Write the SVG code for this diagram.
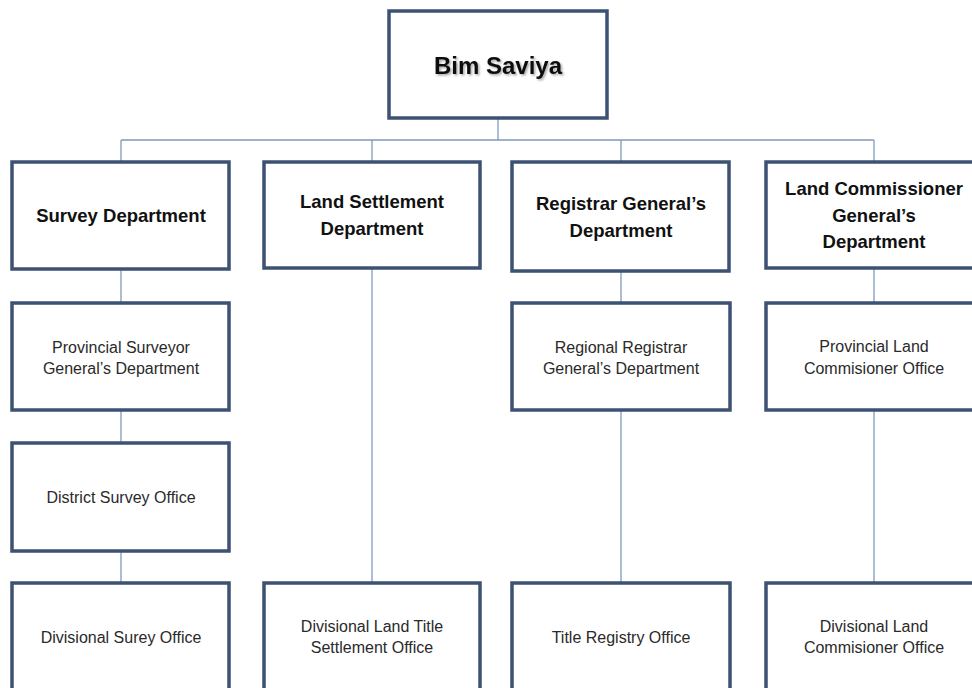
<svg xmlns="http://www.w3.org/2000/svg" width="972" height="688" viewBox="0 0 972 688">
<defs>
<style>
.box{fill:#ffffff;stroke:#3d5273;stroke-width:3.5}
.conn{stroke:#7f9bbb;stroke-width:1.3;fill:none}
.b{font-family:"Liberation Sans",Arial,sans-serif;font-weight:bold;font-size:18.5px;fill:#111;text-anchor:middle}
.n{font-family:"Liberation Sans",Arial,sans-serif;font-size:16px;fill:#2a2a2a;text-anchor:middle}
.t{font-family:"Liberation Sans",Arial,sans-serif;font-weight:bold;font-size:24px;fill:#111;text-anchor:middle}
</style>
<filter id="sh" x="-20%" y="-30%" width="140%" height="160%">
<feDropShadow dx="1.5" dy="1.5" stdDeviation="1" flood-color="#000" flood-opacity="0.35"/>
</filter>
</defs>
<rect width="972" height="688" fill="#ffffff"/>
<g id="connectors">
<path class="conn" d="M498 118V140M121 140H874M121 140V162M372 140V162M621 140V162M874 140V162"/>
<path class="conn" d="M121 269V303M121 410V443M121 551V583"/>
<path class="conn" d="M372 268V583"/>
<path class="conn" d="M621 271V303M621 410V583"/>
<path class="conn" d="M874 268V303M874 410V583"/>
</g>
<g id="bim-saviya"><rect class="box" x="389" y="11" width="218" height="107"/><text class="t" x="498" y="74" filter="url(#sh)">Bim Saviya</text></g>
<g id="survey-dept"><rect class="box" x="12" y="162" width="217" height="107"/><text class="b" x="121" y="222">Survey Department</text></g>
<g id="land-settlement-dept"><rect class="box" x="264" y="162" width="216" height="106"/><text class="b" x="372" y="208">Land Settlement</text><text class="b" x="372" y="235">Department</text></g>
<g id="registrar-general-dept"><rect class="box" x="512" y="162" width="217" height="109"/><text class="b" x="621" y="210">Registrar General’s</text><text class="b" x="621" y="237">Department</text></g>
<g id="land-commissioner-dept"><rect class="box" x="766" y="162" width="217" height="106"/><text class="b" x="874" y="195">Land Commissioner</text><text class="b" x="874" y="222">General’s</text><text class="b" x="874" y="248">Department</text></g>
<g id="provincial-surveyor"><rect class="box" x="12" y="303" width="217" height="107"/><text class="n" x="121" y="353">Provincial Surveyor</text><text class="n" x="121" y="374">General’s Department</text></g>
<g id="regional-registrar"><rect class="box" x="512" y="303" width="218" height="107"/><text class="n" x="621" y="353">Regional Registrar</text><text class="n" x="621" y="374">General’s Department</text></g>
<g id="provincial-land-commissioner"><rect class="box" x="766" y="303" width="217" height="107"/><text class="n" x="874" y="352">Provincial Land</text><text class="n" x="874" y="374">Commisioner Office</text></g>
<g id="district-survey"><rect class="box" x="12" y="443" width="217" height="108"/><text class="n" x="121" y="503">District Survey  Office</text></g>
<g id="divisional-survey"><rect class="box" x="12" y="583" width="217" height="110"/><text class="n" x="121" y="643">Divisional Surey Office</text></g>
<g id="divisional-land-title"><rect class="box" x="264" y="583" width="216" height="110"/><text class="n" x="372" y="632">Divisional  Land Title</text><text class="n" x="372" y="653">Settlement  Office</text></g>
<g id="title-registry"><rect class="box" x="512" y="583" width="218" height="110"/><text class="n" x="621" y="643">Title  Registry Office</text></g>
<g id="divisional-land-commissioner"><rect class="box" x="766" y="583" width="217" height="110"/><text class="n" x="874" y="632">Divisional Land</text><text class="n" x="874" y="653">Commisioner Office</text></g>
</svg>
